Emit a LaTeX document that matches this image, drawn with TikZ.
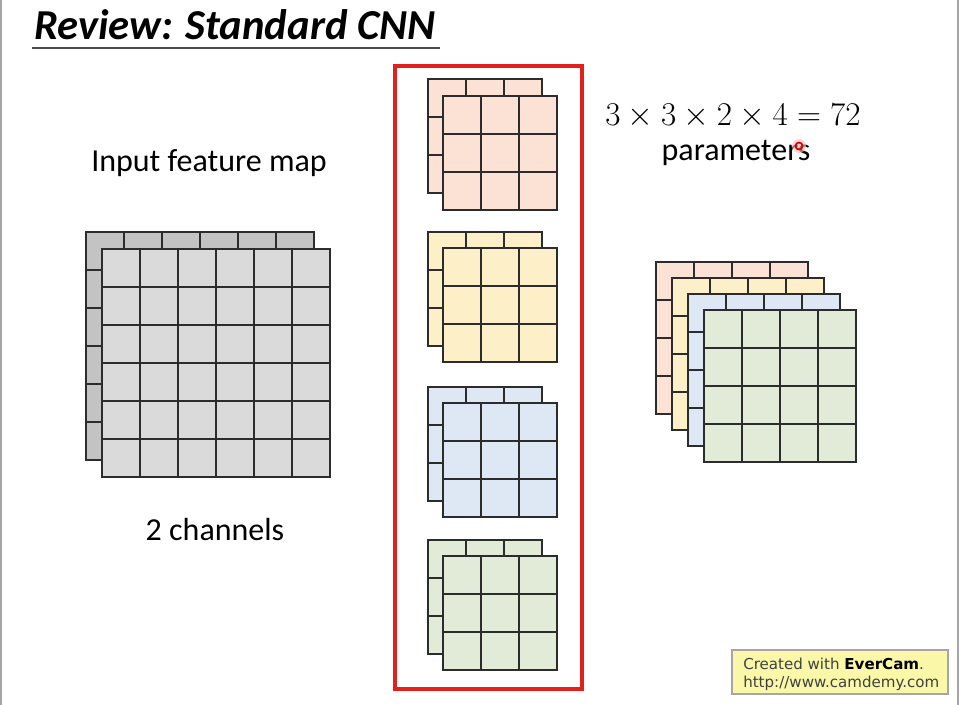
\documentclass[tikz,border=0pt]{standalone}
\usepackage{fontspec}
\setmainfont{Carlito}
\newfontfamily\wmfont{DejaVu Sans}
\definecolor{gridline}{HTML}{2C2C2C}
\definecolor{grayback}{HTML}{C3C3C3}
\definecolor{grayfront}{HTML}{DADADA}
\definecolor{peach}{HTML}{FBE2D5}
\definecolor{lemon}{HTML}{FDF0C8}
\definecolor{skyb}{HTML}{DEE8F5}
\definecolor{sage}{HTML}{E2EBD8}
\definecolor{boxred}{HTML}{E3201B}
\definecolor{wmyellow}{HTML}{FAF8A8}
\newcommand\gridlayer[5]{%
  \filldraw[fill=#5,draw=gridline,line width=1.3pt] (#1,#2) rectangle ++(#3*#4,#3*#4);
  \foreach \k in {1,...,\numexpr#3-1\relax}{%
    \draw[gridline,line width=1.3pt] (#1+\k*#4,#2) -- ++(0,#3*#4);
    \draw[gridline,line width=1.3pt] (#1,#2+\k*#4) -- ++(#3*#4,0);
  }%
}
\begin{document}
\begin{tikzpicture}[x=0.75pt,y=-0.75pt]
\useasboundingbox (0,0) rectangle (960,705);
\fill[white] (0,0) rectangle (960,705);
\draw[gray!70,line width=1.5pt] (1,0) -- (1,705);
\draw[gray!70,line width=1.5pt] (958,0) -- (958,705);
% title
\node[anchor=base west,font=\fontsize{32}{36}\selectfont\bfseries\itshape,inner sep=0pt] (title) at (34,40) {Review: Standard CNN};
\draw[gray!60!black,line width=1.2pt] (32,48) -- (440,48);
% labels
\node[font=\fontsize{24}{28}\selectfont] (inlabel) at (209,163) {Input feature map};
\node[font=\fontsize{24}{28}\selectfont] (chlabel) at (215,530) {2 channels};
\node[font=\fontsize{26.5}{30}\selectfont] (formula) at (733,116) {$3\times3\times2\times4=72$};
\node[font=\fontsize{24}{28}\selectfont] (params) at (736,153) {parameters};
% input feature map
\gridlayer{86}{232}{6}{38}{grayback}
\gridlayer{102}{249}{6}{38}{grayfront}
% filters
\draw[boxred,line width=2.4pt] (395,66) rectangle (582,689);
\gridlayer{428}{79}{3}{38}{peach}
\gridlayer{443}{96}{3}{38}{peach}
\gridlayer{428}{232}{3}{38}{lemon}
\gridlayer{443}{248}{3}{38}{lemon}
\gridlayer{428}{387}{3}{38}{skyb}
\gridlayer{443}{403}{3}{38}{skyb}
\gridlayer{428}{540}{3}{38}{sage}
\gridlayer{443}{556}{3}{38}{sage}
% output maps
\gridlayer{656}{262}{4}{38}{peach}
\gridlayer{672}{278}{4}{38}{lemon}
\gridlayer{688}{294}{4}{38}{skyb}
\gridlayer{704}{310}{4}{38}{sage}
% cursor
\fill[red!25,opacity=0.6] (799,146) circle (7);
\draw[red!85!black,line width=1.3pt] (799,146) circle (3.5);
% watermark
\node[draw=gray!70,fill=wmyellow,line width=0.8pt,minimum width=162pt,minimum height=33pt,inner sep=0pt] (wm) at (840,672) {};
\node[anchor=west,font=\wmfont\fontsize{11.3}{13}\selectfont,text=black!75,inner sep=0pt] (wm1) at (743,664) {Created with \textcolor{black}{\bfseries EverCam}.};
\node[anchor=west,font=\wmfont\fontsize{11.3}{13}\selectfont,text=black!75,inner sep=0pt] (wm2) at (743,683) {http://www.camdemy.com};
\end{tikzpicture}
\end{document}
